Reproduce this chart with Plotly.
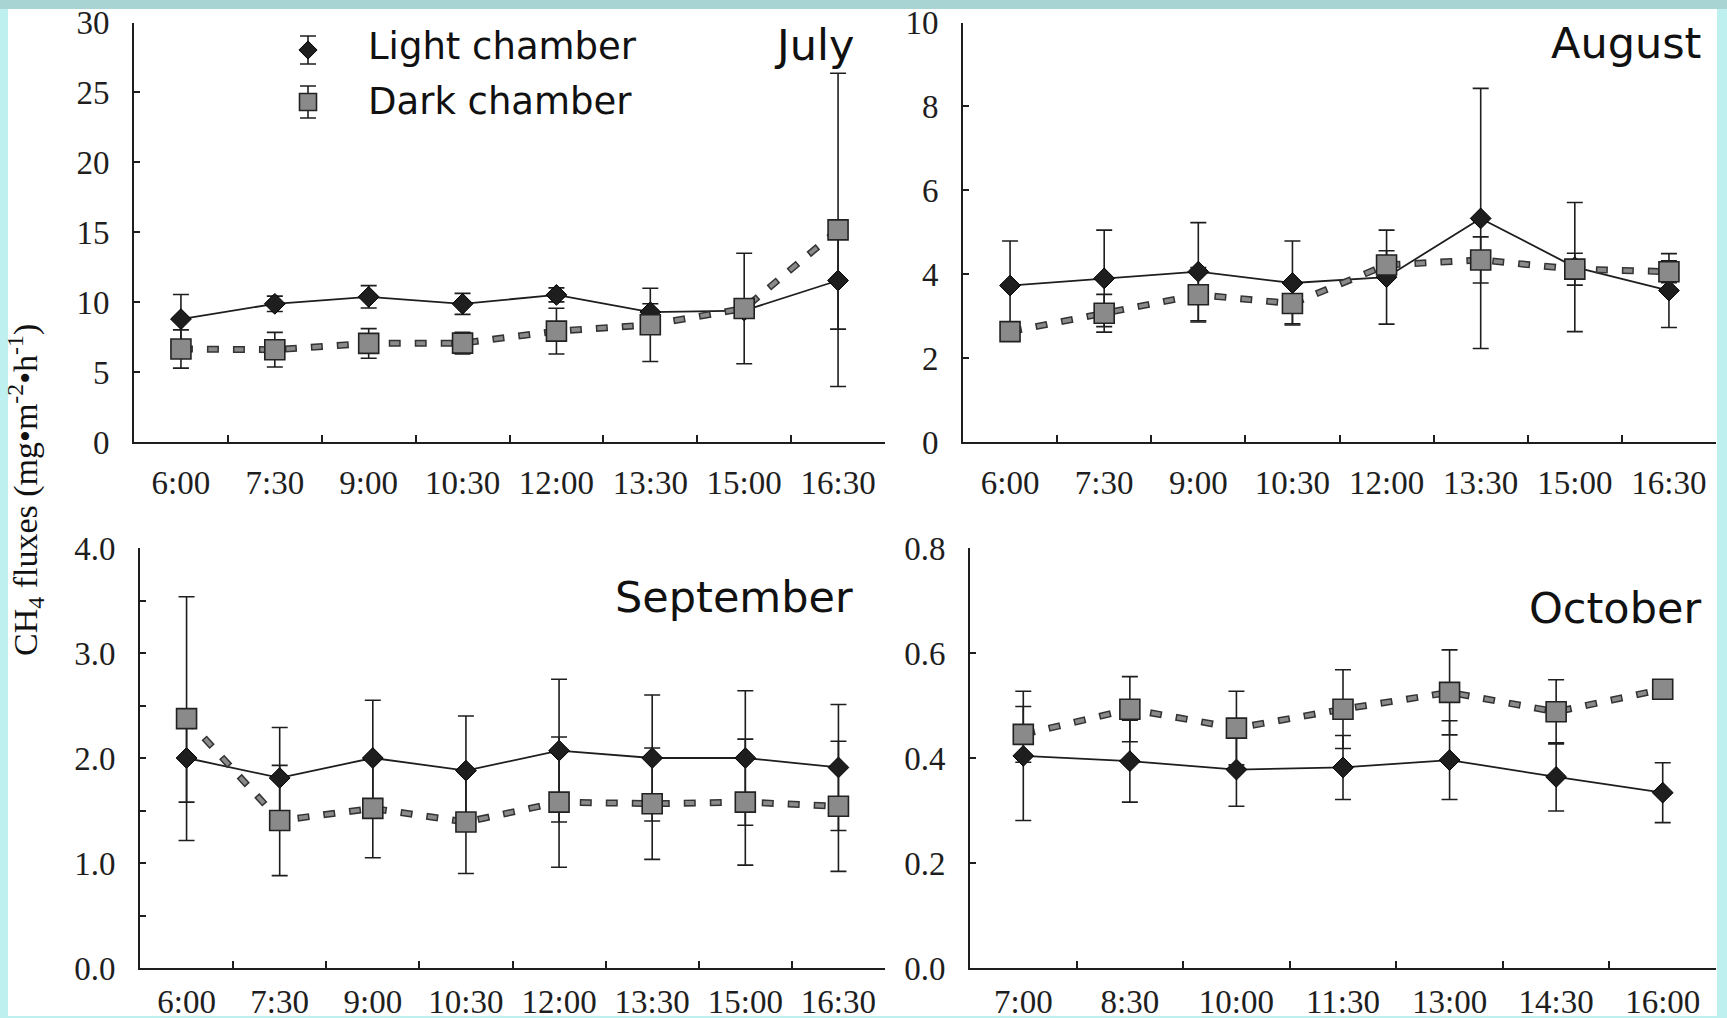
import plotly.graph_objects as go

# ---------------- data ----------------
times_jas = ["6:00", "7:30", "9:00", "10:30", "12:00", "13:30", "15:00", "16:30"]
times_oct = ["7:00", "8:30", "10:00", "11:30", "13:00", "14:30", "16:00"]

jul_light = [8.79, 9.88, 10.38, 9.88, 10.52, 9.29, 9.40, 11.55]
jul_light_err = [1.76, 0.55, 0.80, 0.75, 0.50, 0.60, 0.30, 3.48]
jul_dark = [6.65, 6.60, 7.05, 7.07, 7.93, 8.38, 9.55, 15.17]
jul_dark_err = [1.37, 1.24, 1.06, 0.78, 1.64, 2.62, 3.95, 11.20]

aug_light = [3.73, 3.90, 4.06, 3.79, 3.93, 5.33, 4.17, 3.61]
aug_light_err = [1.06, 1.15, 1.17, 1.00, 1.12, 3.10, 1.54, 0.88]
aug_dark = [2.63, 3.07, 3.51, 3.30, 4.22, 4.34, 4.12, 4.06]
aug_dark_err = [0.15, 0.45, 0.65, 0.48, 0.34, 0.55, 0.38, 0.26]

sep_light = [2.00, 1.81, 2.00, 1.88, 2.07, 2.00, 2.00, 1.91]
sep_light_err = [0.42, 0.48, 0.55, 0.52, 0.68, 0.60, 0.64, 0.60]
sep_dark = [2.375, 1.405, 1.52, 1.39, 1.58, 1.565, 1.58, 1.54]
sep_dark_err = [1.16, 0.525, 0.47, 0.49, 0.62, 0.53, 0.60, 0.62]

oct_light = [0.404, 0.394, 0.378, 0.382, 0.396, 0.364, 0.334]
oct_light_err = [0.123, 0.078, 0.070, 0.061, 0.075, 0.065, 0.057]
oct_dark = [0.445, 0.493, 0.457, 0.493, 0.525, 0.488, 0.531]
oct_dark_err = [0.053, 0.062, 0.070, 0.075, 0.081, 0.061, 0.008]

month_names = ["July", "August", "September", "October"]
y_ranges = [[0, 30], [0, 10], [0, 4.0], [0, 0.8]]
y_dticks = [5, 2, 1.0, 0.2]
y_formats = ["d", "d", ".1f", ".1f"]
series_names = ["Light chamber", "Dark chamber"]
y_title = "CH<sub>4</sub> fluxes (mg•m<sup>-2</sup>•h<sup>-1</sup>)"

# ---------------- layout / style ----------------
W, H = 1727, 1018
def px_x(v):
    return v / W
def px_y(v):
    return 1 - v / H

# domains (pixels): x0, x1, ytop, ybottom, x-label standoff
panels = [
    (134, 885, 22.5, 442, 10),
    (963, 1716, 22.5, 442, 10),
    (140, 885, 548, 968, 3),
    (970, 1716, 548, 968, 3),
]
title_pos = [(856, 45), (1703, 43), (855, 597), (1703, 608)]

INK = "#1e1e1e"
GRAY = "#8a8a8a"
SERIF = "Liberation Serif, Times New Roman, serif"
SANS = "DejaVu Sans, Arial, sans-serif"
DASH_OUT = "12px,14px"
DASH_IN = "0px,1.5px,9px,15.5px"

data_sets = [
    (times_jas, jul_light, jul_light_err, jul_dark, jul_dark_err),
    (times_jas, aug_light, aug_light_err, aug_dark, aug_dark_err),
    (times_jas, sep_light, sep_light_err, sep_dark, sep_dark_err),
    (times_oct, oct_light, oct_light_err, oct_dark, oct_dark_err),
]

fig = go.Figure()

for i, (cats, lv, le, dv, de) in enumerate(data_sets):
    ax = "" if i == 0 else str(i + 1)
    xa, ya = "x" + ax, "y" + ax
    err_style = dict(type="data", visible=True, color=INK, thickness=1.6, width=8)
    # light chamber
    fig.add_trace(go.Scatter(
        x=cats, y=lv, xaxis=xa, yaxis=ya, mode="lines+markers",
        name=series_names[0], showlegend=False,
        line=dict(color=INK, width=1.8),
        marker=dict(symbol="diamond", size=16, color=INK, line=dict(color="#000", width=1)),
        error_y=dict(array=le, **err_style), cliponaxis=False,
    ))
    # dark chamber: outline of dashed line
    fig.add_trace(go.Scatter(
        x=cats, y=dv, xaxis=xa, yaxis=ya, mode="lines", showlegend=False,
        hoverinfo="skip", line=dict(color="#333333", width=7, dash=DASH_OUT),
    ))
    fig.add_trace(go.Scatter(
        x=cats, y=dv, xaxis=xa, yaxis=ya, mode="lines", showlegend=False,
        hoverinfo="skip", line=dict(color=GRAY, width=4, dash=DASH_IN),
    ))
    fig.add_trace(go.Scatter(
        x=cats, y=dv, xaxis=xa, yaxis=ya, mode="markers",
        name=series_names[1], showlegend=False,
        marker=dict(symbol="square", size=20, color=GRAY, line=dict(color="#222", width=1.6)),
        error_y=dict(array=de, **err_style), cliponaxis=False,
    ))

    x0, x1, yt, yb, stand = panels[i]
    n = len(cats)
    fig.update_layout(**{
        "xaxis" + ax: dict(
            domain=[px_x(x0), px_x(x1)], anchor=ya, type="category",
            categoryorder="array", categoryarray=cats,
            range=[-0.5, n - 0.5], tickson="boundaries", ticks="inside",
            ticklen=7, tickwidth=1.8, tickcolor=INK, showline=True,
            linecolor=INK, linewidth=2, showgrid=False, zeroline=False,
            tickfont=dict(family=SERIF, size=33, color=INK), ticklabelstandoff=stand,
            fixedrange=True, automargin=False,
        ),
        "yaxis" + ax: dict(
            domain=[px_y(yb), px_y(yt)], anchor=xa, range=y_ranges[i],
            dtick=y_dticks[i], tick0=0, tickformat=y_formats[i],
            ticks="inside", ticklen=6, tickwidth=1.8, tickcolor=INK,
            showline=True, linecolor=INK, linewidth=2, showgrid=False,
            zeroline=False, tickfont=dict(family=SERIF, size=33, color=INK),
            ticklabelstandoff=16, fixedrange=True, automargin=False,
            minor=(dict(dtick=0.5, ticks="inside", ticklen=6, tickwidth=1.8,
                        tickcolor=INK, showgrid=False) if i == 2 else None),
        ),
    })
    tx, ty = title_pos[i]
    fig.add_annotation(x=px_x(tx), y=px_y(ty), xref="paper", yref="paper",
                       text=month_names[i], showarrow=False, xanchor="right",
                       yanchor="middle", font=dict(family=SANS, size=43, color="#111"))

# ---------------- manual legend (overlay axis in pixel units) ----------------
LEG_X, LEG_TEXT_X = 308, 366
LEG_Y = [50, 102]
LEG_TEXT_Y = [47, 101]
LEG_ERR = [14, 16]
fig.add_trace(go.Scatter(
    x=[LEG_X], y=[LEG_Y[0]], xaxis="x5", yaxis="y5", mode="markers", showlegend=False,
    marker=dict(symbol="diamond", size=14, color=INK, line=dict(color="#000", width=1)),
    error_y=dict(type="data", array=[LEG_ERR[0]], color=INK, thickness=1.6, width=8),
    hoverinfo="skip",
))
fig.add_trace(go.Scatter(
    x=[LEG_X], y=[LEG_Y[1]], xaxis="x5", yaxis="y5", mode="markers", showlegend=False,
    marker=dict(symbol="square", size=17, color=GRAY, line=dict(color="#222", width=1.6)),
    error_y=dict(type="data", array=[LEG_ERR[1]], color=INK, thickness=1.6, width=8),
    hoverinfo="skip",
))
for k in range(2):
    fig.add_annotation(x=px_x(LEG_TEXT_X), y=px_y(LEG_TEXT_Y[k]), xref="paper", yref="paper",
                       text=series_names[k], showarrow=False, xanchor="left",
                       yanchor="middle", font=dict(family=SANS, size=37, color="#111"))

fig.update_layout(
    xaxis5=dict(domain=[0, 1], range=[0, W], visible=False, anchor="y5",
                fixedrange=True, automargin=False),
    yaxis5=dict(domain=[0, 1], range=[H, 0], visible=False, anchor="x5",
                fixedrange=True, automargin=False),
)

# y-axis title
fig.add_annotation(x=px_x(25), y=px_y(490), xref="paper", yref="paper", text=y_title,
                   textangle=-90, showarrow=False, xanchor="center", yanchor="middle",
                   font=dict(family=SERIF, size=34, color="#111"))

# frame + white card
fig.add_shape(type="rect", xref="paper", yref="paper", x0=0, x1=1, y0=px_y(9), y1=1,
              fillcolor="#a8d4d4", line_width=0, layer="below")
fig.add_shape(type="rect", xref="paper", yref="paper", x0=px_x(8), x1=px_x(1717),
              y0=px_y(1016), y1=px_y(9), fillcolor="white", line_width=0, layer="below")

fig.update_layout(
    width=W, height=H,
    margin=dict(l=0, r=0, t=0, b=0, pad=0, autoexpand=False),
    paper_bgcolor="#bff0f0", plot_bgcolor="rgba(0,0,0,0)",
    showlegend=False,
)

fig.write_html(
    "out.html",
    config={"displayModeBar": False},
    post_script="document.body.style.margin='0';document.body.style.padding='0';"
                "document.body.style.overflow='hidden';",
)
